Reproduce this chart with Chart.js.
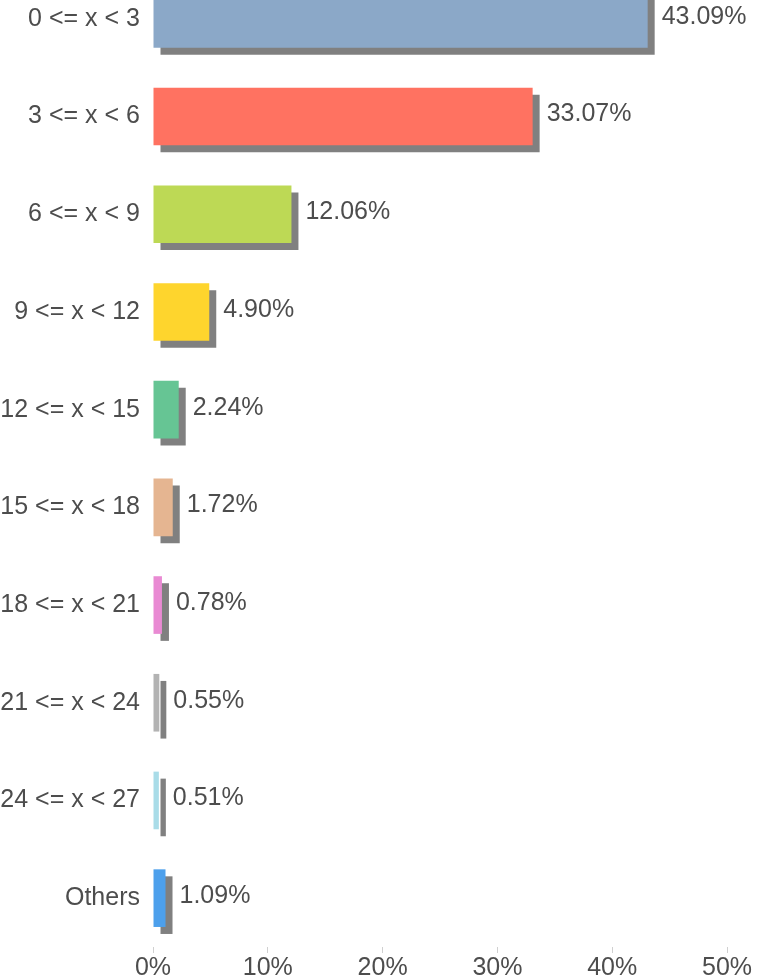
<!DOCTYPE html>
<html>
<head>
<meta charset="utf-8">
<script src="https://cdn.jsdelivr.net/npm/chart.js@4"></script>
<style>
  html, body { margin: 0; padding: 0; background: #fff; overflow: hidden; }
  body { width: 767px; height: 977px; position: relative; }
  #wrap { position: absolute; left: -40px; top: -58px; width: 807px; height: 1035px; }
</style>
</head>
<body>
<div id="wrap"><canvas id="barChart"></canvas></div>
<script>
const categories = ['0 <= x < 3', '3 <= x < 6', '6 <= x < 9', '9 <= x < 12', '12 <= x < 15',
  '15 <= x < 18', '18 <= x < 21', '21 <= x < 24', '24 <= x < 27', 'Others'];
const shares = [43.09, 33.07, 12.06, 4.90, 2.24, 1.72, 0.78, 0.55, 0.51, 1.09];
const barColors = ['#8ba8c8', '#ff7261', '#bdd955', '#fed52d', '#66c594',
  '#e5b591', '#e98ad3', '#b3b3b3', '#a9dce8', '#4da0ec'];
const xTicks = [0, 10, 20, 30, 40, 50];

const FONT = '"Liberation Sans", Arial, sans-serif';
const TEXT_COLOR = '#4d4d4d';

// hard drop shadow under each bar
const shadowPlugin = {
  id: 'barShadow',
  beforeDatasetDraw(chart) {
    const ctx = chart.ctx;
    ctx.save();
    ctx.shadowColor = '#808080';
    ctx.shadowBlur = 0;
    ctx.shadowOffsetX = 7;
    ctx.shadowOffsetY = 7;
  },
  afterDatasetDraw(chart) {
    chart.ctx.restore();
  }
};

// percent text right of each bar
const valueLabels = {
  id: 'valueLabels',
  afterDatasetsDraw(chart) {
    const ctx = chart.ctx;
    const meta = chart.getDatasetMeta(0);
    ctx.save();
    ctx.font = '25px ' + FONT;
    ctx.fillStyle = TEXT_COLOR;
    ctx.textAlign = 'left';
    ctx.textBaseline = 'middle';
    meta.data.forEach((bar, i) => {
      ctx.fillText(shares[i].toFixed(2) + '%', bar.x + 14, bar.y - 2);
    });
    ctx.restore();
  }
};

new Chart(document.getElementById('barChart'), {
  type: 'bar',
  data: {
    labels: categories,
    datasets: [{
      data: shares,
      backgroundColor: barColors,
      borderWidth: 0,
      categoryPercentage: 1,
      barPercentage: 0.59
    }]
  },
  options: {
    indexAxis: 'y',
    responsive: true,
    maintainAspectRatio: false,
    animation: false,
    layout: { padding: { top: 10, right: 40, bottom: 0, left: 0 } },
    plugins: {
      legend: { display: false },
      tooltip: { enabled: false }
    },
    scales: {
      x: {
        min: 0,
        max: 50,
        afterBuildTicks: (axis) => { axis.ticks = xTicks.map(v => ({ value: v })); },
        afterFit: (axis) => { axis.height = 30; },
        grid: {
          drawOnChartArea: false,
          drawTicks: true,
          tickLength: 6,
          color: '#d0d0d0'
        },
        border: { display: false },
        ticks: {
          padding: 0,
          color: TEXT_COLOR,
          font: { family: FONT, size: 25 },
          callback: (v) => v + '%'
        }
      },
      y: {
        afterFit: (axis) => { axis.width = 193; },
        grid: { display: false, drawTicks: false },
        border: { display: false },
        ticks: {
          padding: 13,
          color: TEXT_COLOR,
          font: { family: FONT, size: 25 }
        }
      }
    }
  },
  plugins: [shadowPlugin, valueLabels]
});
</script>
</body>
</html>
